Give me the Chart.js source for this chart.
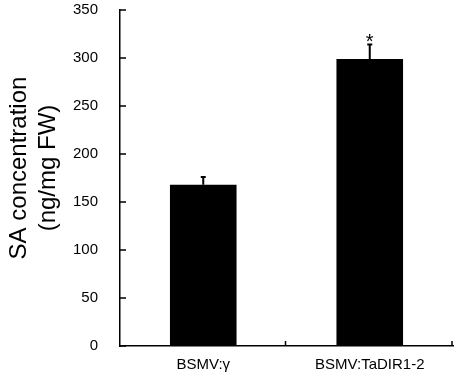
<!DOCTYPE html>
<html>
<head>
<meta charset="utf-8">
<script src="https://cdn.jsdelivr.net/npm/chart.js@4/dist/chart.umd.min.js"></script>
<style>
  html, body { margin: 0; padding: 0; background: #fff; }
  #wrap { width: 459px; height: 375px; }
</style>
</head>
<body>
<div id="wrap"><canvas id="saChart"></canvas></div>
<script>
'use strict';

const categories = ['BSMV:\u03b3', 'BSMV:TaDIR1-2'];
const saValues = [168, 299];
const saErrors = [8, 15];
const marks = ['', '*'];
const yTicks = [0, 50, 100, 150, 200, 250, 300, 350];

const FONT = '"Liberation Sans", Arial, sans-serif';

// error bars, asterisks and the little inward tick marks
const extras = {
    id: 'extras',
    afterDatasetsDraw(chart) {
        const ctx = chart.ctx;
        const x = chart.scales.x;
        const y = chart.scales.y;
        const area = chart.chartArea;
        ctx.save();
        ctx.strokeStyle = '#000';
        ctx.lineWidth = 2;
        saValues.forEach((v, i) => {
            const px = x.getPixelForValue(i);
            const top = y.getPixelForValue(v + saErrors[i]);
            ctx.beginPath();
            ctx.moveTo(px, y.getPixelForValue(v));
            ctx.lineTo(px, top);
            ctx.moveTo(px - 2.5, top);
            ctx.lineTo(px + 2.5, top);
            ctx.stroke();
            if (marks[i]) {
                ctx.fillStyle = '#000';
                ctx.font = '20px ' + FONT;
                ctx.textAlign = 'center';
                ctx.textBaseline = 'middle';
                ctx.fillText(marks[i], px, top - 2);
            }
        });
        ctx.lineWidth = 1.5;
        ctx.beginPath();
        yTicks.forEach(t => {
            const py = y.getPixelForValue(t);
            ctx.moveTo(area.left, py);
            ctx.lineTo(area.left + 6, py);
        });
        const w = (area.right - area.left) / categories.length;
        for (let k = 1; k <= categories.length; k++) {
            const px = area.left + k * w - 1;
            ctx.moveTo(px, area.bottom);
            ctx.lineTo(px, area.bottom - 5);
        }
        ctx.stroke();
        ctx.restore();
    }
};

const CHART = document.getElementById('saChart');

new Chart(CHART, {
    type: 'bar',
    data: {
        labels: categories,
        datasets: [{
            data: saValues,
            backgroundColor: '#000',
            borderWidth: 0,
            barPercentage: 0.4,
            categoryPercentage: 1
        }]
    },
    options: {
        responsive: true,
        maintainAspectRatio: false,
        animation: false,
        layout: { padding: { top: 10, right: 6, left: 0, bottom: 0 } },
        plugins: { legend: { display: false }, tooltip: { enabled: false } },
        scales: {
            x: {
                grid: { display: false, drawTicks: true, tickLength: 10 },
                border: { color: '#000', width: 1.5 },
                ticks: {
                    color: '#000',
                    padding: 0,
                    font: { family: FONT, size: 15 }
                },
                afterFit(s) { s.height = 29; }
            },
            y: {
                min: 0,
                max: 350,
                grid: { display: false, drawTicks: true, tickLength: 22 },
                border: { color: '#000', width: 1.5 },
                ticks: {
                    stepSize: 50,
                    color: '#000',
                    padding: 0,
                    font: { family: FONT, size: 15 }
                },
                title: {
                    display: true,
                    // leading spaces nudge the title up a bit, like the original
                    text: ['   SA concentration', '   (ng/mg FW)'],
                    color: '#000',
                    padding: { top: 5, bottom: 0 },
                    font: { family: FONT, size: 24, lineHeight: 1.2 }
                },
                afterFit(s) { s.width = 120; }
            }
        }
    },
    plugins: [extras]
});
</script>
</body>
</html>
